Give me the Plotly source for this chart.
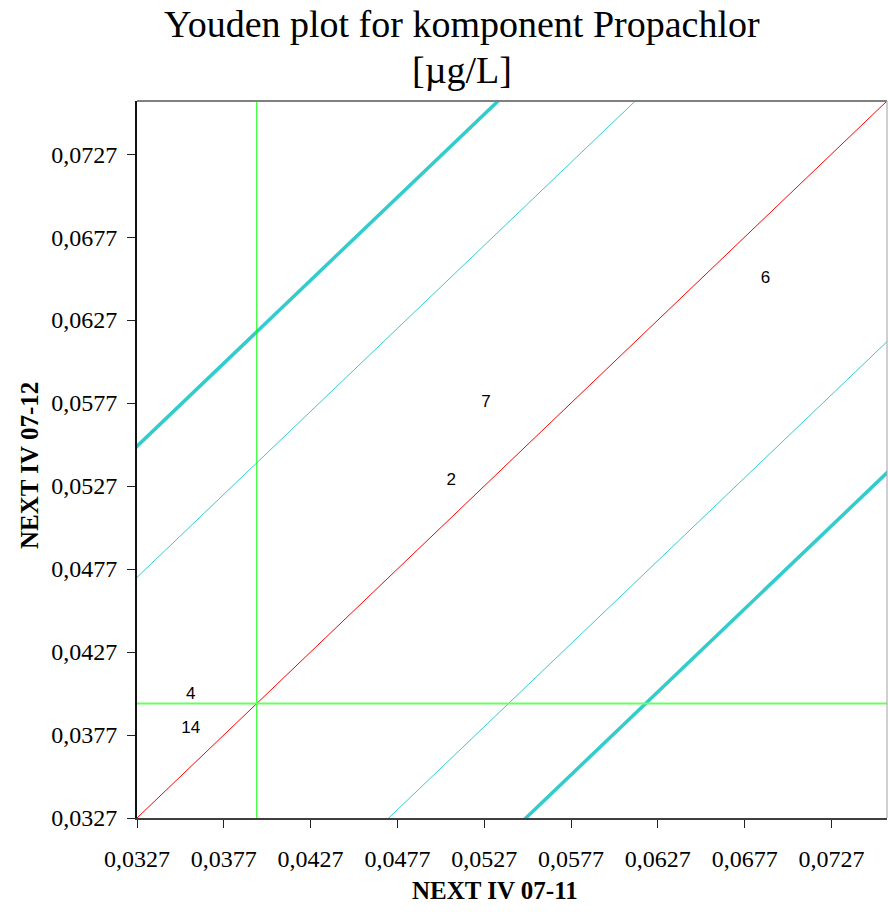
import plotly.graph_objects as go

# Youden plot data
lab_ids = ["2", "4", "6", "7", "14"]
sample_11 = [0.0508, 0.0358, 0.0689, 0.0528, 0.0358]
sample_12 = [0.0530, 0.0401, 0.0652, 0.0577, 0.0381]

median_11 = 0.0396
median_12 = 0.0396
inner_offset = 0.0145
outer_offset = 0.0224

axis_min = 0.0327
axis_max = 0.0759
tick_vals = [0.0327, 0.0377, 0.0427, 0.0477, 0.0527, 0.0577, 0.0627, 0.0677, 0.0727]
tick_text = ["0,0327", "0,0377", "0,0427", "0,0477", "0,0527", "0,0577", "0,0627", "0,0677", "0,0727"]

serif = "Liberation Serif, Times New Roman, serif"
sans = "Liberation Sans, Arial, sans-serif"

fig = go.Figure()

# diagonal reference lines y = x + c
line_x = [axis_min - 0.03, axis_max + 0.03]
for c, w in [(0, 1), (inner_offset, 1), (-inner_offset, 1), (outer_offset, 3.5), (-outer_offset, 3.5)]:
    fig.add_trace(go.Scatter(
        x=line_x, y=[v + c for v in line_x], mode="lines",
        line=dict(color="#FF0000" if c == 0 else "#33CCCC", width=w),
        hoverinfo="skip", showlegend=False))

# median lines
fig.add_trace(go.Scatter(x=[median_11, median_11], y=[axis_min, axis_max], mode="lines",
                         line=dict(color="#00FF00", width=1), showlegend=False))
fig.add_trace(go.Scatter(x=[axis_min, axis_max], y=[median_12, median_12], mode="lines",
                         line=dict(color="#66FF66", width=2), showlegend=False))

# labs plotted as their id
fig.add_trace(go.Scatter(x=sample_11, y=sample_12, mode="text", text=lab_ids,
                         textfont=dict(family=sans, size=17, color="black"),
                         showlegend=False))

axis_common = dict(
    range=[axis_min, axis_max], tickvals=tick_vals, ticktext=tick_text,
    showgrid=False, zeroline=False, showline=True, linewidth=2,
    ticks="outside", ticklen=8, tickcolor="#222222",
    tickfont=dict(family=serif, size=24, color="black"),
)
fig.update_xaxes(**axis_common, linecolor="#404040", ticklabelstandoff=10)
fig.update_yaxes(**axis_common, linecolor="#111111", ticklabelstandoff=5)

fig.add_shape(type="line", xref="paper", yref="paper", x0=0, x1=1, y0=1, y1=1,
              line=dict(color="#808080", width=2))
fig.add_shape(type="line", xref="paper", yref="paper", x0=1, x1=1, y0=0, y1=1,
              line=dict(color="#A0A0A0", width=1))

fig.add_annotation(text="Youden plot for komponent Propachlor", xref="paper", yref="paper",
                   x=0.433, y=1, xanchor="center", yanchor="middle", yshift=77, showarrow=False,
                   font=dict(family=serif, size=38, color="black"))
fig.add_annotation(text="[µg/L]", xref="paper", yref="paper",
                   x=0.433, y=1, xanchor="center", yanchor="middle", yshift=31, showarrow=False,
                   font=dict(family=serif, size=38, color="black"))
fig.add_annotation(text="<b>NEXT IV 07-11</b>", xref="paper", yref="paper",
                   x=0.477, y=0, xanchor="center", yanchor="middle", yshift=-72, showarrow=False,
                   font=dict(family=serif, size=25, color="black"))
fig.add_annotation(text="<b>NEXT IV 07-12</b>", xref="paper", yref="paper",
                   x=0, xshift=-107, y=0.491, xanchor="center", yanchor="middle",
                   showarrow=False, textangle=-90,
                   font=dict(family=serif, size=25, color="black"))

fig.update_layout(
    width=888, height=912,
    margin=dict(l=137, r=1, t=101, b=94),
    plot_bgcolor="white", paper_bgcolor="white",
)

fig.write_html("out.html", config={"displayModeBar": False},
               post_script="document.body.style.margin='0';")
